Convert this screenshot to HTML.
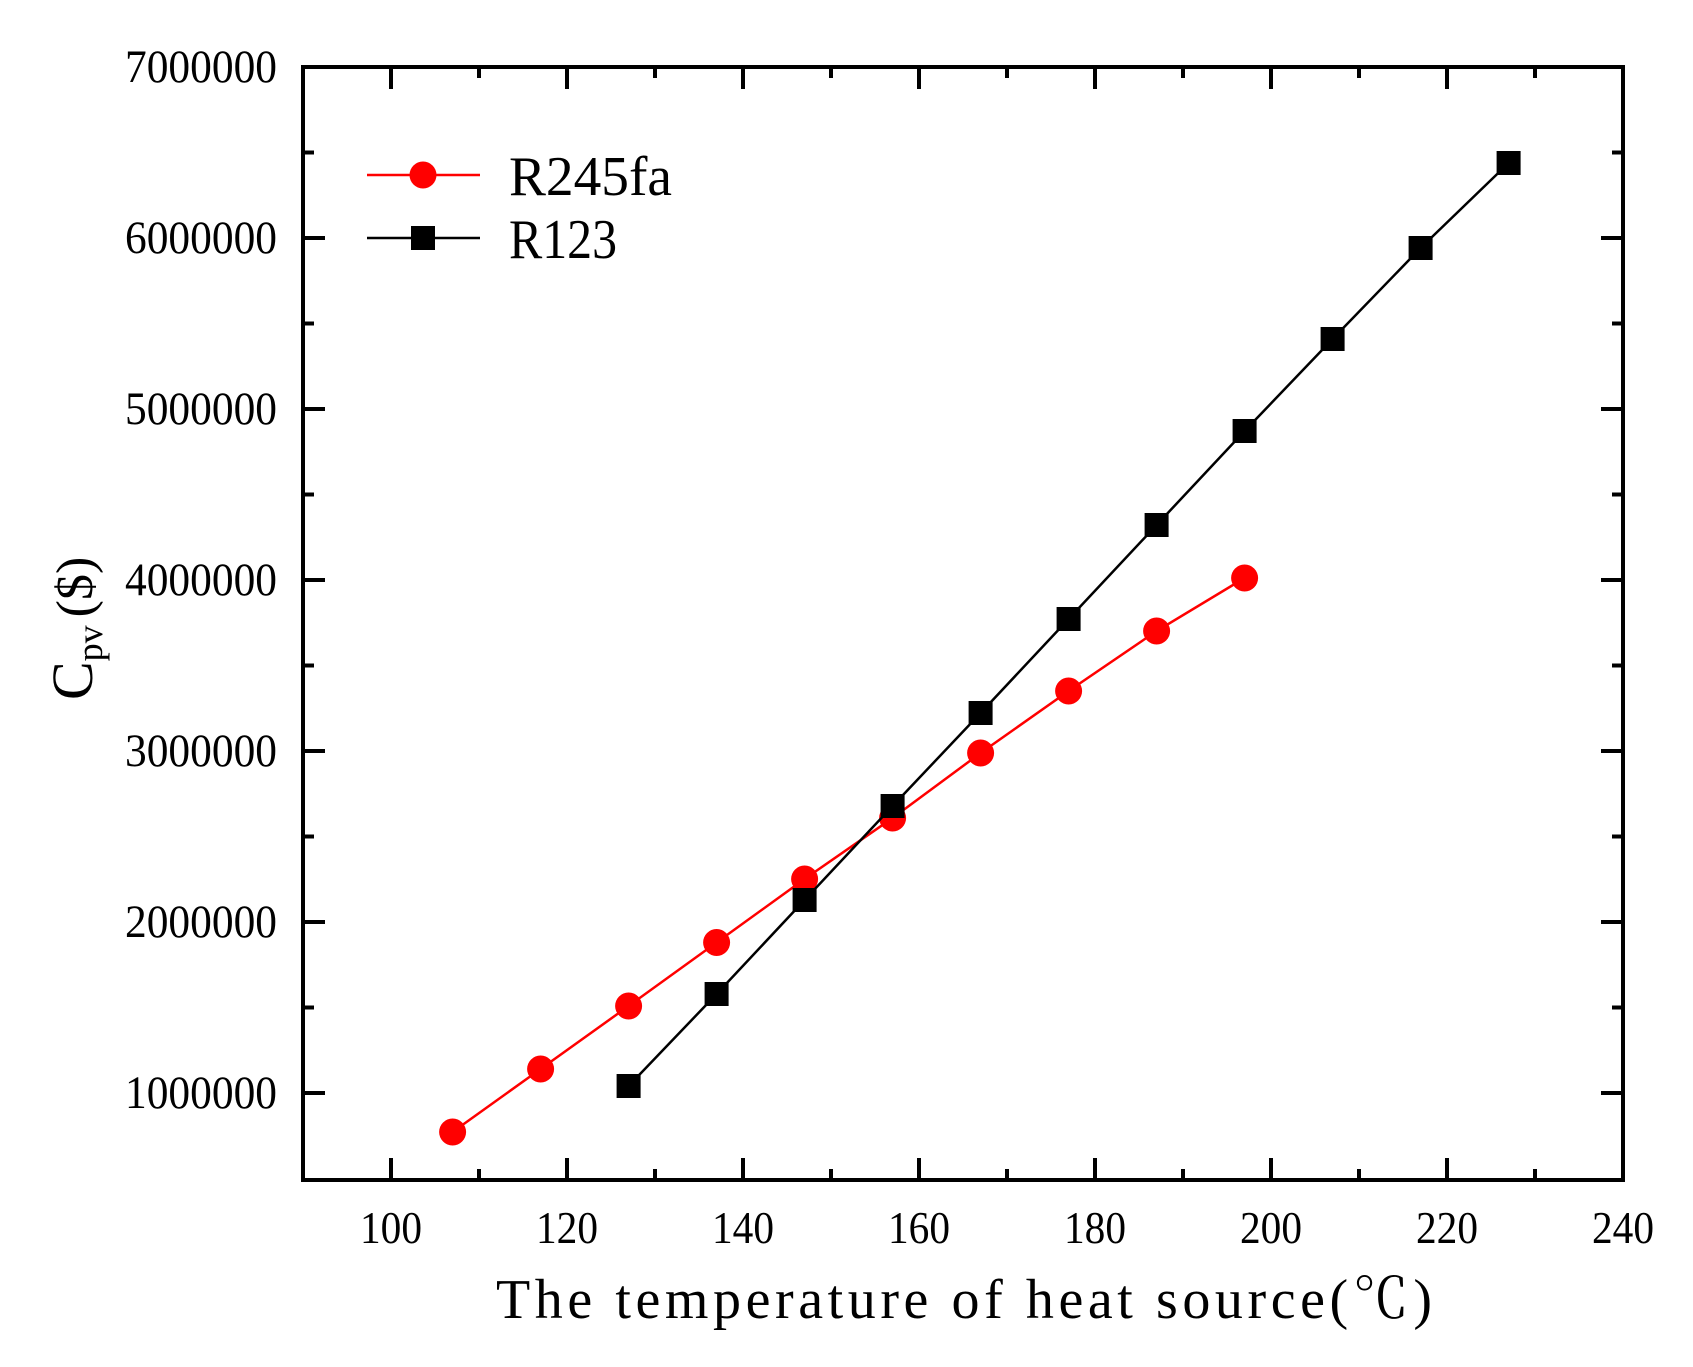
<!DOCTYPE html>
<html><head><meta charset="utf-8"><style>html,body{margin:0;padding:0;background:#fff}svg{display:block}</style></head>
<body>
<svg width="1693" height="1367" viewBox="0 0 1693 1367" xmlns="http://www.w3.org/2000/svg">
<rect width="1693" height="1367" fill="#fff"/>
<rect x="303" y="67" width="1320" height="1113" stroke="#000" stroke-width="4" fill="none"/>
<g stroke="#000" stroke-width="4">
<line x1="391" y1="1180" x2="391" y2="1158"/><line x1="567" y1="1180" x2="567" y2="1158"/><line x1="743" y1="1180" x2="743" y2="1158"/><line x1="919" y1="1180" x2="919" y2="1158"/><line x1="1095" y1="1180" x2="1095" y2="1158"/><line x1="1271" y1="1180" x2="1271" y2="1158"/><line x1="1447" y1="1180" x2="1447" y2="1158"/>
<line x1="391" y1="67" x2="391" y2="89"/><line x1="567" y1="67" x2="567" y2="89"/><line x1="743" y1="67" x2="743" y2="89"/><line x1="919" y1="67" x2="919" y2="89"/><line x1="1095" y1="67" x2="1095" y2="89"/><line x1="1271" y1="67" x2="1271" y2="89"/><line x1="1447" y1="67" x2="1447" y2="89"/>
<line x1="479" y1="1180" x2="479" y2="1169"/><line x1="655" y1="1180" x2="655" y2="1169"/><line x1="831" y1="1180" x2="831" y2="1169"/><line x1="1007" y1="1180" x2="1007" y2="1169"/><line x1="1183" y1="1180" x2="1183" y2="1169"/><line x1="1359" y1="1180" x2="1359" y2="1169"/><line x1="1535" y1="1180" x2="1535" y2="1169"/>
<line x1="479" y1="67" x2="479" y2="78"/><line x1="655" y1="67" x2="655" y2="78"/><line x1="831" y1="67" x2="831" y2="78"/><line x1="1007" y1="67" x2="1007" y2="78"/><line x1="1183" y1="67" x2="1183" y2="78"/><line x1="1359" y1="67" x2="1359" y2="78"/><line x1="1535" y1="67" x2="1535" y2="78"/>
<line x1="303" y1="238" x2="325" y2="238"/><line x1="303" y1="409" x2="325" y2="409"/><line x1="303" y1="580" x2="325" y2="580"/><line x1="303" y1="751" x2="325" y2="751"/><line x1="303" y1="922" x2="325" y2="922"/><line x1="303" y1="1093" x2="325" y2="1093"/>
<line x1="1623" y1="238" x2="1601" y2="238"/><line x1="1623" y1="409" x2="1601" y2="409"/><line x1="1623" y1="580" x2="1601" y2="580"/><line x1="1623" y1="751" x2="1601" y2="751"/><line x1="1623" y1="922" x2="1601" y2="922"/><line x1="1623" y1="1093" x2="1601" y2="1093"/>
<line x1="303" y1="152.5" x2="314" y2="152.5"/><line x1="303" y1="323.5" x2="314" y2="323.5"/><line x1="303" y1="494.5" x2="314" y2="494.5"/><line x1="303" y1="665.5" x2="314" y2="665.5"/><line x1="303" y1="836.5" x2="314" y2="836.5"/><line x1="303" y1="1007.5" x2="314" y2="1007.5"/>
<line x1="1623" y1="152.5" x2="1612" y2="152.5"/><line x1="1623" y1="323.5" x2="1612" y2="323.5"/><line x1="1623" y1="494.5" x2="1612" y2="494.5"/><line x1="1623" y1="665.5" x2="1612" y2="665.5"/><line x1="1623" y1="836.5" x2="1612" y2="836.5"/><line x1="1623" y1="1007.5" x2="1612" y2="1007.5"/>
</g>
<g font-family="Liberation Serif, serif" font-size="47" fill="#000" text-anchor="end">
<text x="277" y="82" textLength="152" lengthAdjust="spacingAndGlyphs">7000000</text>
<text x="277" y="253" textLength="152" lengthAdjust="spacingAndGlyphs">6000000</text>
<text x="277" y="424" textLength="152" lengthAdjust="spacingAndGlyphs">5000000</text>
<text x="277" y="595" textLength="152" lengthAdjust="spacingAndGlyphs">4000000</text>
<text x="277" y="766" textLength="152" lengthAdjust="spacingAndGlyphs">3000000</text>
<text x="277" y="937" textLength="152" lengthAdjust="spacingAndGlyphs">2000000</text>
<text x="277" y="1108" textLength="152" lengthAdjust="spacingAndGlyphs">1000000</text>
</g>
<g font-family="Liberation Serif, serif" font-size="46" fill="#000">
<text x="360" y="1243" textLength="62" lengthAdjust="spacingAndGlyphs">100</text>
<text x="536" y="1243" textLength="62" lengthAdjust="spacingAndGlyphs">120</text>
<text x="712" y="1243" textLength="62" lengthAdjust="spacingAndGlyphs">140</text>
<text x="888" y="1243" textLength="62" lengthAdjust="spacingAndGlyphs">160</text>
<text x="1064" y="1243" textLength="62" lengthAdjust="spacingAndGlyphs">180</text>
<text x="1240" y="1243" textLength="62" lengthAdjust="spacingAndGlyphs">200</text>
<text x="1416" y="1243" textLength="62" lengthAdjust="spacingAndGlyphs">220</text>
<text x="1592" y="1243" textLength="62" lengthAdjust="spacingAndGlyphs">240</text>
</g>
<text x="496" y="1318" font-family="Liberation Serif, 'Noto Serif CJK SC', serif" font-size="56" textLength="936" lengthAdjust="spacing">The temperature of heat source(℃)</text>
<g transform="translate(92,700) rotate(-90)" font-family="Liberation Serif, serif" fill="#000">
<text x="0" y="0" font-size="58">C<tspan font-size="36" dy="10">pv</tspan><tspan font-size="52" dy="-10" dx="8">($)</tspan></text>
</g>
<polyline fill="none" stroke="#f00" stroke-width="2.5" points="452.6,1132 540.6,1069 628.6,1006 716.6,942.5 804.6,879 892.6,818 980.6,753 1068.6,691 1156.6,631 1244.6,578"/>
<g fill="#f00">
<circle cx="452.6" cy="1132" r="13.5"/><circle cx="540.6" cy="1069" r="13.5"/><circle cx="628.6" cy="1006" r="13.5"/><circle cx="716.6" cy="942.5" r="13.5"/><circle cx="804.6" cy="879" r="13.5"/><circle cx="892.6" cy="818" r="13.5"/><circle cx="980.6" cy="753" r="13.5"/><circle cx="1068.6" cy="691" r="13.5"/><circle cx="1156.6" cy="631" r="13.5"/><circle cx="1244.6" cy="578" r="13.5"/>
</g>
<polyline fill="none" stroke="#000" stroke-width="2.5" points="628.6,1086 716.6,994 804.6,900 892.6,806 980.6,713 1068.6,619 1156.6,525 1244.6,431 1332.6,339 1420.6,248 1508.6,163"/>
<g fill="#000">
<rect x="616.6" y="1074" width="24" height="24"/><rect x="704.6" y="982" width="24" height="24"/><rect x="792.6" y="888" width="24" height="24"/><rect x="880.6" y="794" width="24" height="24"/><rect x="968.6" y="701" width="24" height="24"/><rect x="1056.6" y="607" width="24" height="24"/><rect x="1144.6" y="513" width="24" height="24"/><rect x="1232.6" y="419" width="24" height="24"/><rect x="1320.6" y="327" width="24" height="24"/><rect x="1408.6" y="236" width="24" height="24"/><rect x="1496.6" y="151" width="24" height="24"/>
</g>
<line x1="367" y1="175" x2="480" y2="175" stroke="#f00" stroke-width="2.5"/>
<circle cx="423" cy="175" r="13.5" fill="#f00"/>
<line x1="367" y1="238" x2="480" y2="238" stroke="#000" stroke-width="2.5"/>
<rect x="411" y="226" width="24" height="24" fill="#000"/>
<g font-family="Liberation Serif, serif" font-size="56" fill="#000">
<text x="509" y="195" textLength="163" lengthAdjust="spacingAndGlyphs">R245fa</text>
<text x="509" y="258" textLength="108" lengthAdjust="spacingAndGlyphs">R123</text>
</g>
</svg>
</body></html>
